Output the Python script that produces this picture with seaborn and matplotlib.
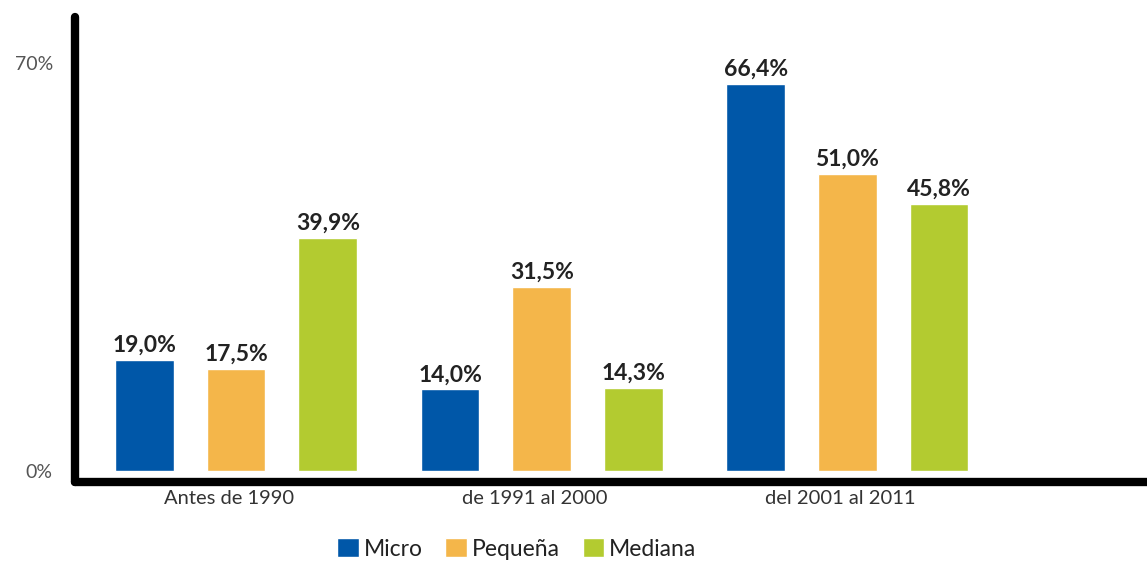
import matplotlib
matplotlib.use("Agg")
import matplotlib.pyplot as plt
import matplotlib.transforms as mtransforms
import seaborn as sns
import pandas as pd

# Data: share of firms by founding period and size
periods = ["Antes de 1990", "de 1991 al 2000", "del 2001 al 2011"]
sizes = ["Micro", "Pequeña", "Mediana"]
micro = [19.0, 14.0, 66.4]
pequena = [17.5, 31.5, 51.0]
mediana = [39.9, 14.3, 45.8]
y_ticks = [0, 70]
y_tick_labels = ["0%", "70%"]

colors = ["#0057A8", "#F4B64A", "#B3CB30"]

df = pd.DataFrame({
    "periodo": periods * 3,
    "tamano": [s for s in sizes for _ in periods],
    "valor": micro + pequena + mediana,
})

sns.set_theme(style="white")
plt.rcParams["font.family"] = ["Lato", "DejaVu Sans"]

fig = plt.figure(figsize=(11.47, 5.61), dpi=100)
ax = fig.add_axes([0.0654, 0.1408, 0.9346, 0.8289])

sns.barplot(
    data=df, x="periodo", y="valor", hue="tamano",
    order=periods, hue_order=sizes, palette=colors,
    width=0.9, gap=0.36, saturation=1, ax=ax, legend=True,
)

for container in ax.containers:
    labels = [f"{v:.1f}%".replace(".", ",") for v in container.datavalues]
    ax.bar_label(container, labels=labels, padding=3, fontsize=16.5,
                 fontweight="bold", color="#222222")

ax.set_xlim(-0.527, 2.98)
ax.set_ylim(-1.89, 77.87)
ax.set_yticks(y_ticks)
ax.set_yticklabels(y_tick_labels)
ax.set_xlabel("")
ax.set_ylabel("")

for side in ["top", "right"]:
    ax.spines[side].set_visible(False)
for side in ["left", "bottom"]:
    ax.spines[side].set_color("black")
    ax.spines[side].set_linewidth(6)
    ax.spines[side].set_capstyle("round")

ax.tick_params(axis="y", length=0, pad=16, labelsize=14, labelcolor="#555555")
ax.tick_params(axis="x", length=0, pad=6, labelsize=14.5, labelcolor="#333333")

# Nudge the period labels slightly to the left
shift = mtransforms.ScaledTranslation(-7 / 100, 0, fig.dpi_scale_trans)
for lbl in ax.get_xticklabels():
    lbl.set_transform(lbl.get_transform() + shift)

sns.move_legend(
    ax, "center", bbox_to_anchor=(0.412, -0.144), ncol=3, frameon=False,
    title=None, fontsize=16.5, handlelength=0.95, handleheight=0.85,
    handletextpad=0.2, columnspacing=1.0,
)
for t in ax.get_legend().get_texts():
    t.set_color("#222222")

fig.savefig("out.png", dpi=100)
